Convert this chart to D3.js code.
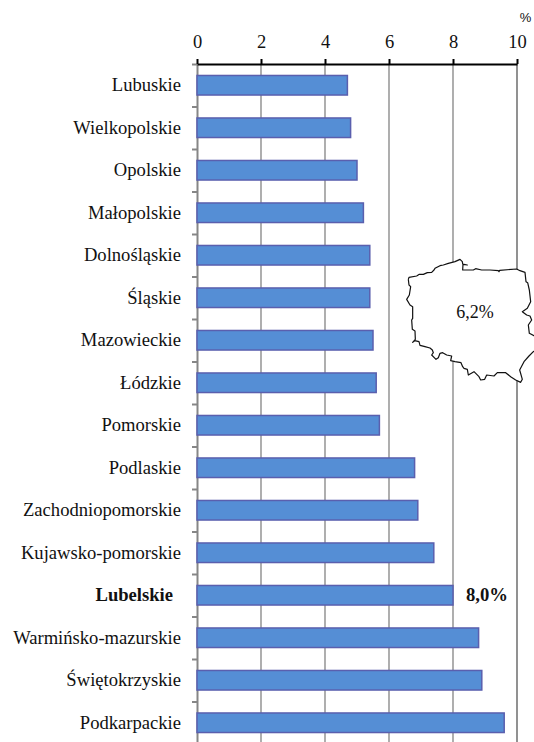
<!DOCTYPE html>
<html>
<head>
<meta charset="utf-8">
<script src="https://cdn.jsdelivr.net/npm/d3@7"></script>
<style>
    body { margin: 0; background: #fff; }
    svg { display: block; }
    text { font-family: "Liberation Serif", serif; fill: #111; }
</style>
</head>
<body>
<div id="chart"></div>
<script>
(function() {
    var regions = ["Lubuskie", "Wielkopolskie", "Opolskie", "Małopolskie", "Dolnośląskie", "Śląskie",
        "Mazowieckie", "Łódzkie", "Pomorskie", "Podlaskie", "Zachodniopomorskie", "Kujawsko-pomorskie",
        "Lubelskie", "Warmińsko-mazurskie", "Świętokrzyskie", "Podkarpackie"]
    var values = [4.7, 4.8, 5.0, 5.2, 5.4, 5.4, 5.5, 5.6, 5.7, 6.8, 6.9, 7.4, 8.0, 8.8, 8.9, 9.6]
    var xTicks = [0, 2, 4, 6, 8, 10]
    var highlight = "Lubelskie"
    var highlightLabel = "8,0%"
    var countryLabel = "6,2%"
    var unit = "%"

    // outline of Poland, in map units (3 units = 1px)
    var outline = [[55,118],[57,112],[80,108],[88,103],[100,103],[112,98],[125,97],[132,90],[135,85],[150,77],[160,75],
        [175,70],[195,65],[210,58],[217,65],[218,72],[232,75],[219,73],[218,90],[250,90],[257,86],[275,90],[300,90],
        [325,92],[327,95],[329,91],[380,87],[390,92],[405,97],[408,125],[413,128],[418,150],[422,185],[412,205],
        [397,215],[410,225],[420,228],[425,240],[415,255],[418,280],[432,287],[450,300],[450,320],[430,335],
        [417,348],[402,365],[389,390],[397,418],[392,427],[377,420],[362,410],[347,398],[322,398],[312,408],
        [290,405],[284,418],[272,420],[267,410],[252,395],[235,405],[232,388],[222,385],[218,380],[213,368],
        [195,365],[182,362],[185,348],[170,345],[158,338],[150,340],[145,353],[138,358],[125,345],[130,338],
        [127,330],[120,324],[105,320],[90,316],[87,305],[74,302],[68,307],[76,298],[75,273],[67,268],[65,240],
        [68,235],[68,200],[60,195],[50,178],[58,165],[62,140],[57,135],[55,118]]

    var width = 534,
        height = 742;

    var svg = d3.select("#chart")
        .append("svg")
        .attr("width", width)
        .attr("height", height)

    var xScale = d3.scaleLinear().domain([0, 10]).range([197, 517])
    var yBand = d3.scaleBand().domain(regions).range([64, 744]).paddingInner(0.54).paddingOuter(0.27)
    var yEdge = d3.scaleLinear().domain([0, regions.length]).range([64, 744])

    // gridlines
    svg.selectAll(".grid")
        .data(xTicks.slice(1))
        .enter().append("line")
        .attr("class", "grid")
        .attr("x1", function(d) { return xScale(d) })
        .attr("x2", function(d) { return xScale(d) })
        .attr("y1", 64)
        .attr("y2", 744)
        .attr("stroke", function(d) { return d === 10 ? "#868686" : "#a6a6a6" })
        .attr("stroke-width", 1.8)

    // left axis, ticks on the band edges
    var edgeAxis = svg.append("g")
        .attr("transform", "translate(" + xScale(0) + ",0)")
        .call(d3.axisLeft(yEdge).tickValues(d3.range(regions.length + 1)).tickFormat("").tickSize(5).tickSizeOuter(0))
    edgeAxis.selectAll("path, line")
        .attr("stroke", "#868686")
        .attr("stroke-width", 2)

    // bars
    svg.selectAll(".bar")
        .data(regions)
        .enter().append("rect")
        .attr("class", "bar")
        .attr("x", xScale(0))
        .attr("y", function(d) { return yBand(d) })
        .attr("width", function(d, i) { return xScale(values[i]) - xScale(0) })
        .attr("height", yBand.bandwidth())
        .attr("fill", "#558ed5")
        .attr("stroke", "#5a5fae")
        .attr("stroke-width", 1.5)

    // top axis
    var topAxis = svg.append("g")
        .attr("transform", "translate(0,64)")
        .call(d3.axisTop(xScale).tickValues(xTicks).tickFormat(d3.format("d")).tickSize(5).tickSizeOuter(0))
    topAxis.select(".domain").attr("stroke", "#000").attr("stroke-width", 2)
    topAxis.selectAll(".tick line").attr("stroke", "#000").attr("stroke-width", 2)
    topAxis.selectAll("text")
        .attr("y", -16)
        .style("font-family", "Liberation Serif")
        .style("font-size", "18.5px")
        .attr("fill", "#111")

    // category labels
    var labelAxis = svg.append("g")
        .attr("transform", "translate(181,0)")
        .call(d3.axisLeft(yBand).tickSize(0).tickPadding(0))
    labelAxis.select(".domain").remove()
    labelAxis.selectAll("text")
        .style("font-family", "Liberation Serif")
        .style("font-size", "18.6px")
        .attr("fill", "#111")
        .attr("x", function(d) { return d === highlight ? -8 : 0 })
        .style("font-weight", function(d) { return d === highlight ? "bold" : "normal" })

    // map
    var mapX = d3.scaleLinear().domain([0, 432]).range([390, 534])
    var mapY = d3.scaleLinear().domain([0, 450]).range([240, 390])
    var line = d3.line()
        .x(function(d) { return mapX(d[0]) })
        .y(function(d) { return mapY(d[1]) })
    svg.append("path")
        .datum(outline)
        .attr("d", line)
        .attr("fill", "#fff")
        .attr("stroke", "#111")
        .attr("stroke-width", 1.2)
        .attr("stroke-linejoin", "round")

    svg.append("text")
        .attr("x", 475)
        .attr("y", 318)
        .attr("text-anchor", "middle")
        .style("font-size", "18px")
        .text(countryLabel)

    svg.append("text")
        .attr("x", xScale(8) + 13)
        .attr("y", yBand(highlight) + yBand.bandwidth() / 2 + 6)
        .style("font-size", "18.7px")
        .style("font-weight", "bold")
        .text(highlightLabel)

    svg.append("text")
        .attr("x", 525.5)
        .attr("y", 22)
        .attr("text-anchor", "middle")
        .style("font-family", "Liberation Sans")
        .style("font-size", "13px")
        .text(unit)
})();
</script>
</body>
</html>
